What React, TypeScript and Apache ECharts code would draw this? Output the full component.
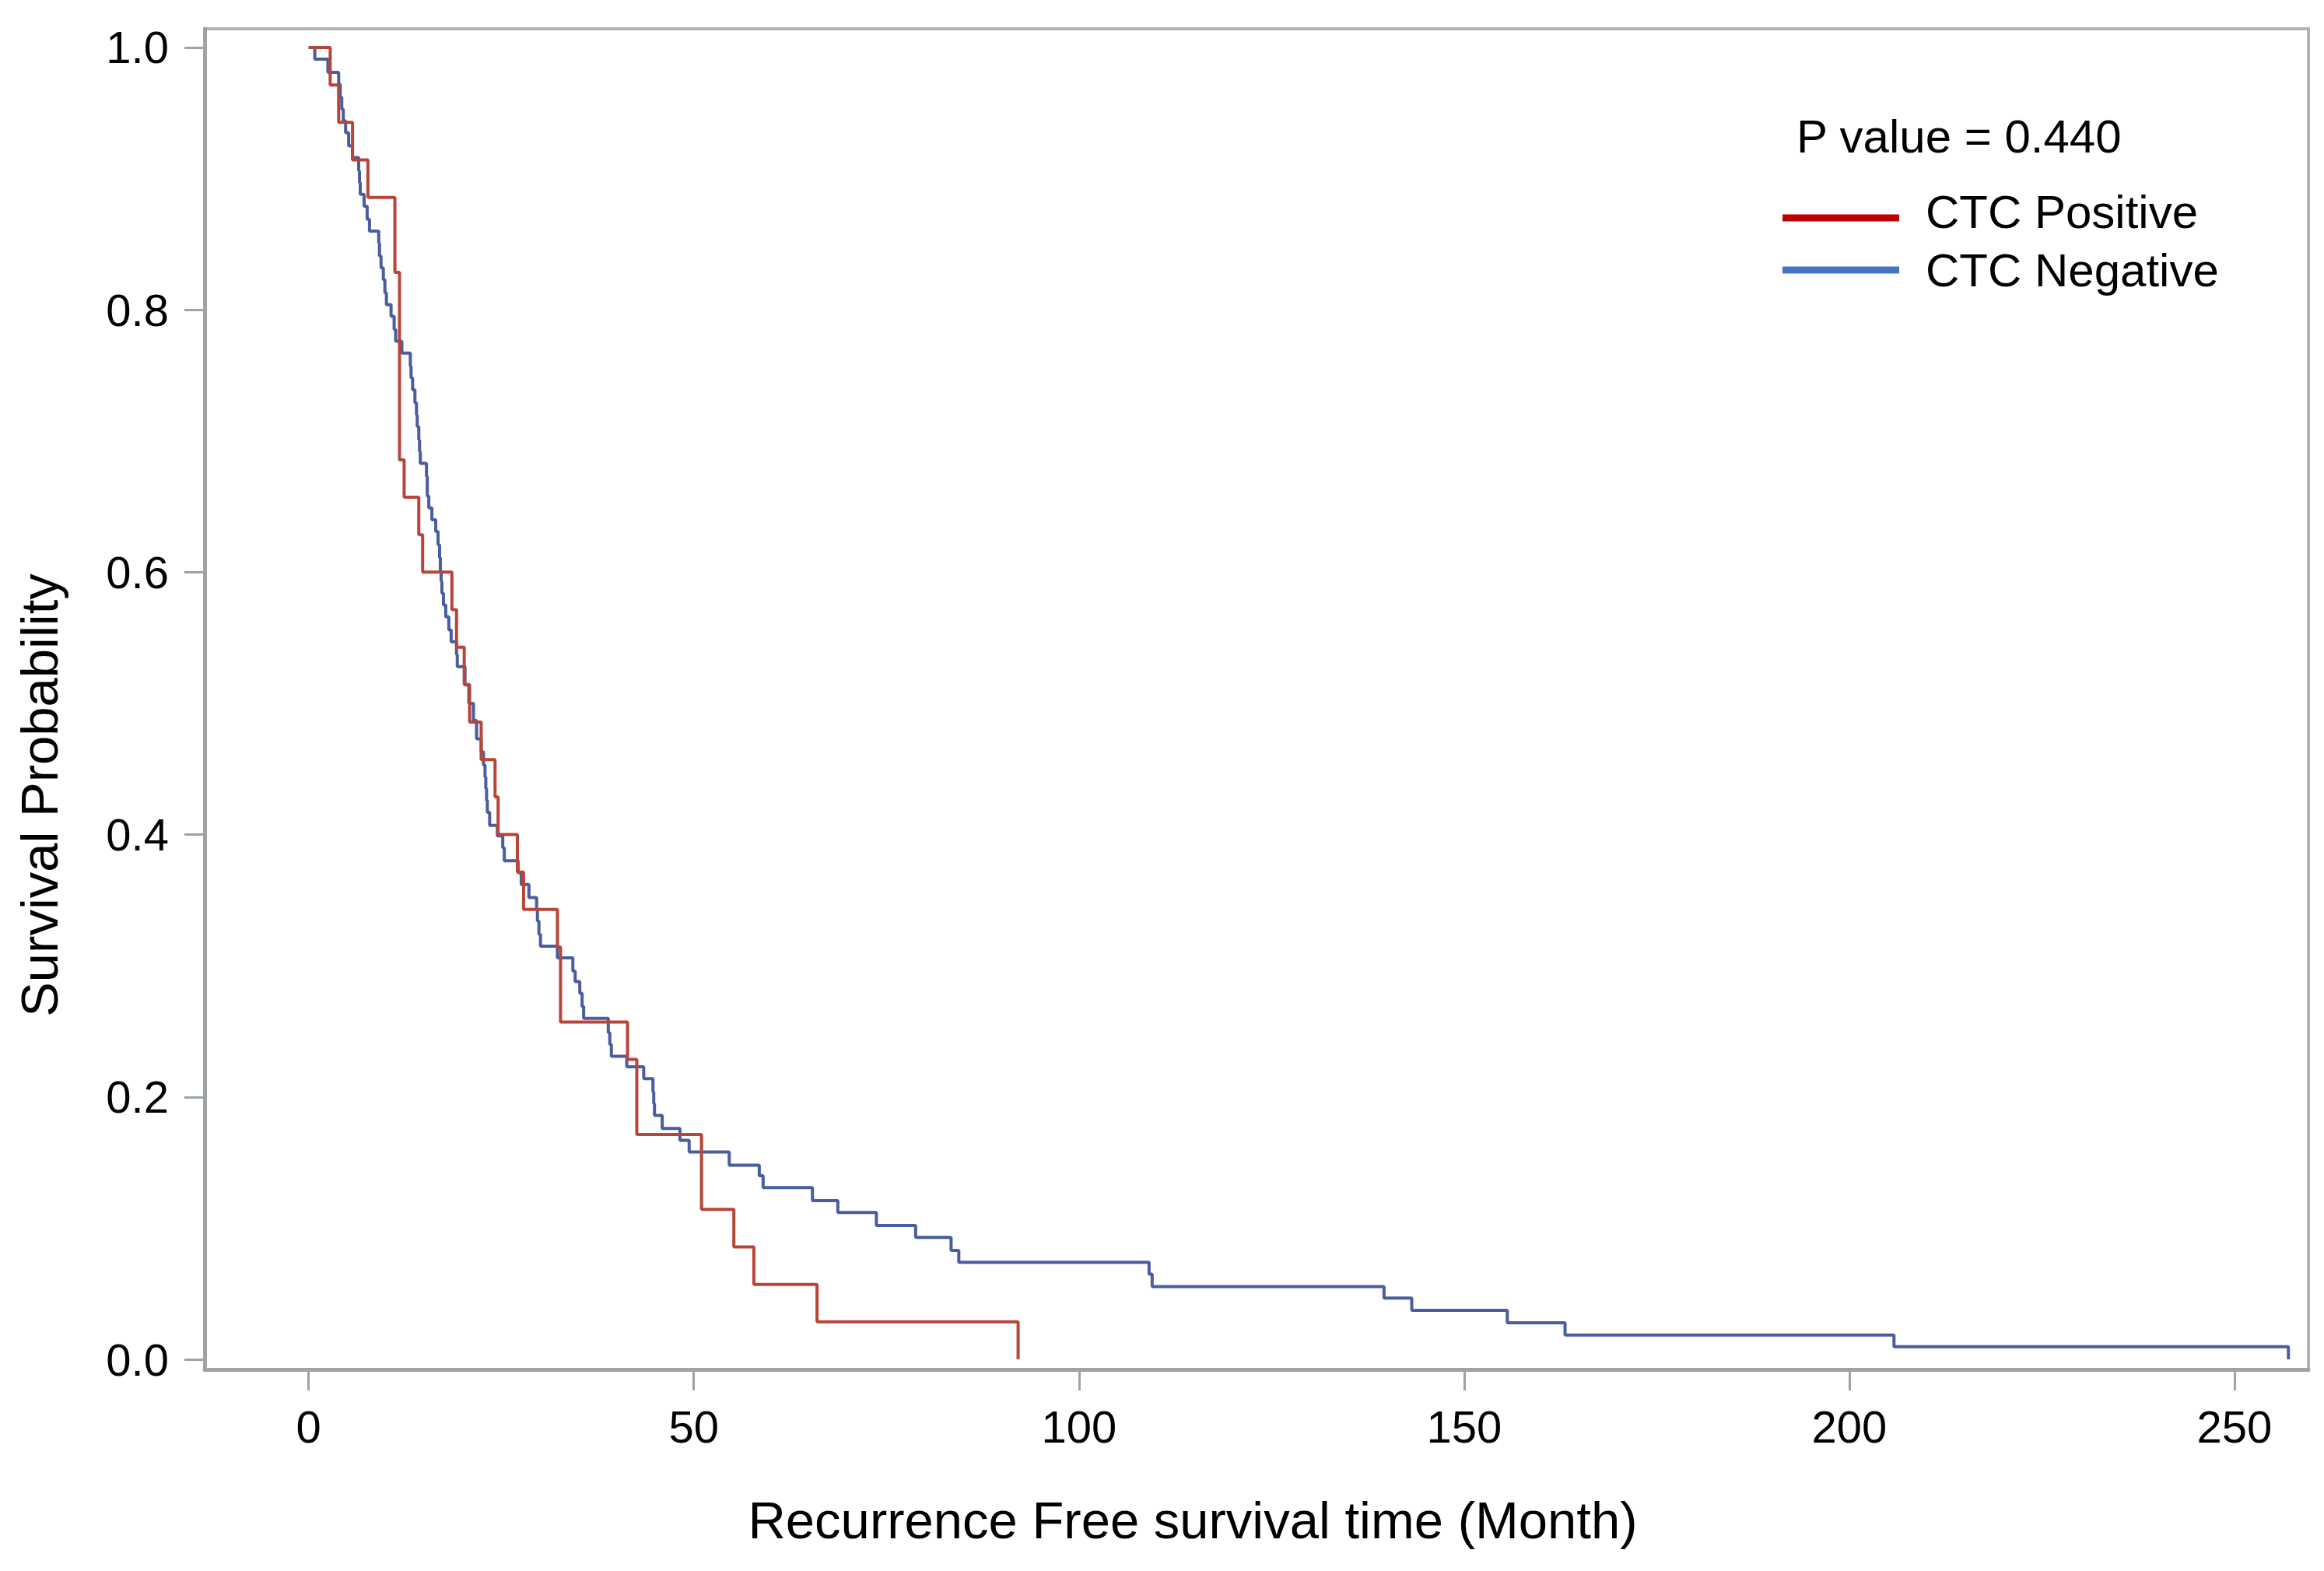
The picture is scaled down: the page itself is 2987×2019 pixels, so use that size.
import React, { useEffect, useRef } from "react";
import * as echarts from "echarts";

// Kaplan-Meier steps: [time (month), survival probability after the event]
const redSteps: [number, number][] = [
  [0, 1.0], [2.8, 0.9714], [3.9, 0.9429], [5.7, 0.9143], [7.7, 0.8857],
  [11.2, 0.8286], [11.8, 0.6857], [12.4, 0.6571], [14.3, 0.6286], [14.8, 0.6],
  [18.6, 0.5714], [19.2, 0.5429], [20.2, 0.5143], [20.9, 0.4857], [22.4, 0.4571],
  [24.2, 0.4286], [24.6, 0.4], [27.1, 0.3714], [27.9, 0.3429], [32.3, 0.3143],
  [32.7, 0.2571], [41.4, 0.2286], [42.6, 0.1714], [51.0, 0.1143], [55.2, 0.0857],
  [57.8, 0.0571], [66.0, 0.0286], [92.1, 0.0],
];

const blueSteps: [number, number][] = [
  [0, 1.0], [0.8, 0.991], [2.5, 0.981], [3.9, 0.972], [4.1, 0.962], [4.3, 0.953],
  [4.5, 0.944], [4.8, 0.935], [5.2, 0.925], [5.7, 0.916], [6.5, 0.906], [6.6, 0.897],
  [6.7, 0.888], [7.2, 0.879], [7.6, 0.869], [7.9, 0.86], [9.1, 0.851], [9.2, 0.841],
  [9.4, 0.832], [9.7, 0.823], [9.9, 0.813], [10.1, 0.804], [10.7, 0.795], [11.1, 0.785],
  [11.3, 0.776], [12.1, 0.767], [13.2, 0.757], [13.3, 0.748], [13.5, 0.739], [13.8, 0.729],
  [14.0, 0.72], [14.1, 0.711], [14.3, 0.701], [14.4, 0.692], [14.5, 0.683], [15.3, 0.673],
  [15.4, 0.658], [15.6, 0.649], [16.0, 0.64], [16.5, 0.631], [16.8, 0.621], [17.0, 0.611],
  [17.1, 0.601], [17.2, 0.593], [17.3, 0.584], [17.5, 0.575], [17.8, 0.566], [18.2, 0.556],
  [18.5, 0.547], [19.2, 0.537], [19.3, 0.528], [20.3, 0.514], [20.8, 0.5], [21.4, 0.487],
  [21.8, 0.473], [22.4, 0.463], [22.7, 0.453], [22.9, 0.444], [23.0, 0.435], [23.1, 0.426],
  [23.2, 0.417], [23.5, 0.407], [24.5, 0.399], [25.2, 0.39], [25.4, 0.38], [27.2, 0.371],
  [27.6, 0.362], [28.6, 0.352], [29.6, 0.343], [29.7, 0.334], [29.9, 0.324], [30.1, 0.315],
  [32.3, 0.306], [34.3, 0.296], [34.6, 0.288], [35.2, 0.279], [35.5, 0.269], [35.7, 0.26],
  [38.9, 0.249], [39.1, 0.24], [39.3, 0.231], [41.3, 0.223], [43.5, 0.214], [44.7, 0.204],
  [44.8, 0.195], [44.9, 0.186], [45.9, 0.176], [48.2, 0.167], [49.4, 0.158], [54.6, 0.148],
  [58.5, 0.14], [59.0, 0.131], [65.4, 0.121], [68.7, 0.112], [73.7, 0.102], [78.8, 0.093],
  [83.4, 0.083], [84.4, 0.074], [109.1, 0.065], [109.5, 0.0555], [139.6, 0.0467],
  [143.2, 0.0374], [155.6, 0.0279], [163.1, 0.0186], [205.8, 0.0097], [257.0, 0.0],
];

const xTicks = [0, 50, 100, 150, 200, 250];
const yTicks = [0, 0.2, 0.4, 0.6, 0.8, 1.0];
const seriesNames = ["CTC Positive", "CTC Negative"];
const pValueText = "P value = 0.440";
const xTitle = "Recurrence Free survival time (Month)";
const yTitle = "Survival Probability";

const FONT = "'Liberation Sans', Arial, Helvetica, sans-serif";

export default function App() {
  const ref = useRef<HTMLDivElement>(null);

  useEffect(() => {
    if (!ref.current) return;
    const chart = echarts.init(ref.current, undefined, { renderer: "svg" });
    const axisGray = "#9EA3A7";
    chart.setOption({
      animation: false,
      backgroundColor: "#ffffff",
      grid: {
        left: 263,
        top: 37,
        width: 2704,
        height: 1723,
        show: true,
        borderColor: "#B0B4B8",
        borderWidth: 4,
        containLabel: false,
      },
      xAxis: {
        type: "value",
        min: -13.5,
        max: 259.6,
        axisLine: { show: true, onZero: false, lineStyle: { color: axisGray, width: 5 } },
        axisTick: {
          show: true,
          customValues: xTicks,
          length: 27,
          lineStyle: { color: axisGray, width: 3 },
        },
        axisLabel: {
          customValues: xTicks,
          margin: 44,
          fontSize: 58,
          color: "#000",
          fontFamily: FONT,
        },
        splitLine: { show: false },
      },
      yAxis: {
        type: "value",
        min: -0.0077,
        max: 1.0142,
        axisLine: { show: true, onZero: false, lineStyle: { color: axisGray, width: 5 } },
        axisTick: {
          show: true,
          customValues: yTicks,
          length: 26,
          lineStyle: { color: axisGray, width: 3 },
        },
        axisLabel: {
          customValues: yTicks,
          margin: 46,
          fontSize: 58,
          color: "#000",
          fontFamily: FONT,
          formatter: (v: number) => v.toFixed(1),
        },
        splitLine: { show: false },
      },
      series: [
        {
          name: seriesNames[0],
          type: "line",
          step: "end",
          showSymbol: false,
          symbol: "none",
          data: redSteps,
          lineStyle: { color: "#B8453A", width: 4 },
          itemStyle: { color: "#B8453A" },
          z: 3,
        },
        {
          name: seriesNames[1],
          type: "line",
          step: "end",
          showSymbol: false,
          symbol: "none",
          data: blueSteps,
          lineStyle: { color: "#4A5D9E", width: 4 },
          itemStyle: { color: "#4A5D9E" },
          z: 2,
        },
      ],
      graphic: [
        {
          type: "text",
          x: 2309,
          y: 175,
          style: {
            text: pValueText,
            fontSize: 60,
            fontFamily: FONT,
            fill: "#000",
            align: "left",
            verticalAlign: "middle",
          },
        },
        {
          type: "line",
          shape: { x1: 2291, y1: 280, x2: 2441, y2: 280 },
          style: { stroke: "#C00000", lineWidth: 9 },
        },
        {
          type: "text",
          x: 2475,
          y: 272,
          style: {
            text: seriesNames[0],
            fontSize: 60,
            fontFamily: FONT,
            fill: "#000",
            align: "left",
            verticalAlign: "middle",
          },
        },
        {
          type: "line",
          shape: { x1: 2291, y1: 347, x2: 2441, y2: 347 },
          style: { stroke: "#4472C4", lineWidth: 9 },
        },
        {
          type: "text",
          x: 2475,
          y: 347,
          style: {
            text: seriesNames[1],
            fontSize: 60,
            fontFamily: FONT,
            fill: "#000",
            align: "left",
            verticalAlign: "middle",
          },
        },
        {
          type: "text",
          x: 1533,
          y: 1953,
          style: {
            text: xTitle,
            fontSize: 67,
            fontFamily: FONT,
            fill: "#000",
            align: "center",
            verticalAlign: "middle",
          },
        },
        {
          type: "text",
          x: 50,
          y: 1022,
          rotation: Math.PI / 2,
          style: {
            text: yTitle,
            fontSize: 67,
            fontFamily: FONT,
            fill: "#000",
            align: "center",
            verticalAlign: "middle",
          },
        },
      ],
    });
    return () => chart.dispose();
  }, []);

  return (
    <div
      ref={ref}
      style={{ position: "fixed", left: 0, top: 0, width: 2987, height: 2019, background: "#fff" }}
    />
  );
}
